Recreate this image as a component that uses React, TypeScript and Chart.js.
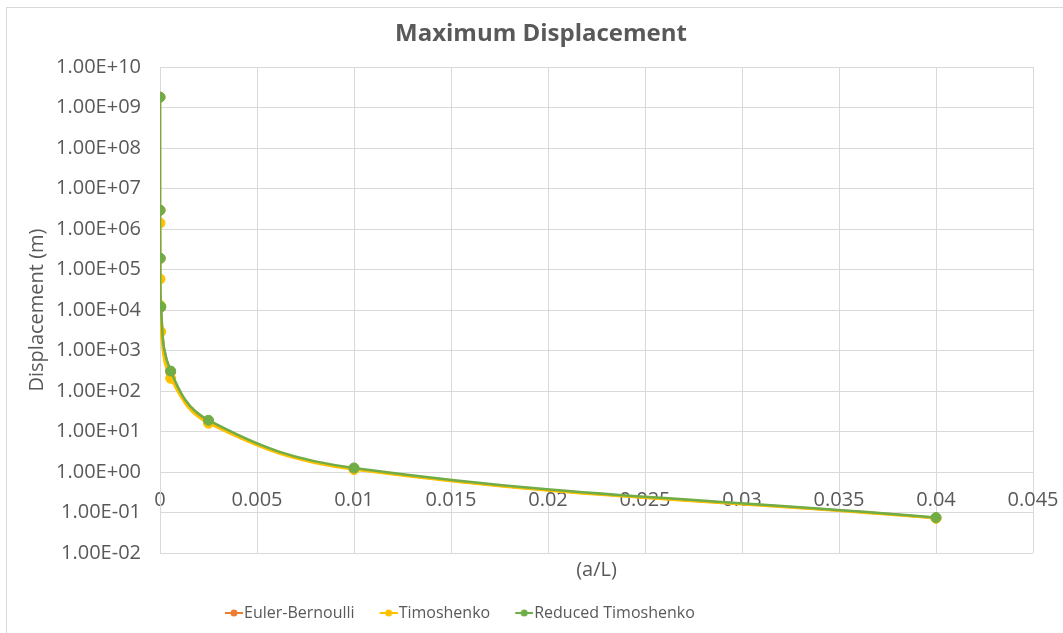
import React, { useEffect, useRef } from 'react';
import { Chart, registerables } from 'chart.js';

Chart.register(...registerables);

// ---- data ----
const xValues = [0.04, 0.01, 0.0025, 0.00055, 0.00004, 0.00001, 0.000002, 0.0000002];
const eulerBernoulli = [0.073, 1.2, 18, 300, 11800, 187000, 2.9e6, 1.8e9];
const timoshenko = [0.072, 1.15, 16, 205, 2900, 13000, 58000, 1.4e6];
const reducedTimoshenko = [0.075, 1.26, 19, 310, 12000, 190000, 2.9e6, 1.8e9];

const seriesNames = ['Euler-Bernoulli', 'Timoshenko', 'Reduced Timoshenko'];
const seriesColors = ['#ED7D31', '#FFC000', '#70AD47'];

const xTickValues = [0, 0.005, 0.01, 0.015, 0.02, 0.025, 0.03, 0.035, 0.04, 0.045];
const xTickLabels = ['0', '0.005', '0.01', '0.015', '0.02', '0.025', '0.03', '0.035', '0.04', '0.045'];
const yTickValues = [1e-2, 1e-1, 1e0, 1e1, 1e2, 1e3, 1e4, 1e5, 1e6, 1e7, 1e8, 1e9, 1e10];
const yTickLabels = [
  '1.00E-02', '1.00E-01', '1.00E+00', '1.00E+01', '1.00E+02', '1.00E+03', '1.00E+04',
  '1.00E+05', '1.00E+06', '1.00E+07', '1.00E+08', '1.00E+09', '1.00E+10',
];

const titleText = 'Maximum Displacement';
const xTitle = '(a/L)';
const yTitle = 'Displacement (m)';

const FONT = "'Open Sans', 'Noto Sans', sans-serif";
const TEXT = '#595959';
const GRID = '#d9d9d9';

function makeLegendIcon(color: string): HTMLCanvasElement {
  const c = document.createElement('canvas');
  c.width = 25;
  c.height = 12;
  const ctx = c.getContext('2d')!;
  ctx.strokeStyle = color;
  ctx.lineWidth = 2;
  ctx.beginPath();
  ctx.moveTo(7, 6);
  ctx.lineTo(25, 6);
  ctx.stroke();
  ctx.fillStyle = color;
  ctx.beginPath();
  ctx.arc(16, 6, 3.5, 0, Math.PI * 2);
  ctx.fill();
  return c;
}

const boxShift = {
  id: 'boxShift',
  afterLayout(chart: any) {
    const l = chart.legend;
    if (l) {
      const w = l.right - l.left;
      l.left = 200;
      l.right = 200 + w;
    }
    const t = chart.titleBlock;
    if (t) {
      t.left = 49;
      t.right = 1033;
    }
  },
};

export default function App() {
  const ref = useRef<HTMLCanvasElement | null>(null);

  useEffect(() => {
    if (!ref.current) return;
    const series = [eulerBernoulli, timoshenko, reducedTimoshenko];
    const icons = seriesColors.map(makeLegendIcon);
    const datasets = series.map((vals, i) => ({
      label: seriesNames[i],
      data: vals.map((v, j) => ({ x: xValues[j], y: v })),
      borderColor: seriesColors[i],
      backgroundColor: seriesColors[i],
      borderWidth: 2.5,
      pointRadius: 5,
      pointHoverRadius: 5,
      pointBorderWidth: 1,
      pointBorderColor: seriesColors[i],
      pointBackgroundColor: seriesColors[i],
      tension: 0.4,
      fill: false,
      order: 2 - i,
    }));

    const chart = new Chart(ref.current, {
      type: 'line',
      data: { datasets },
      plugins: [boxShift],
      options: {
        animation: false,
        responsive: false,
        maintainAspectRatio: false,
        layout: { padding: { left: 0, right: 30, top: 0, bottom: 2 } },
        plugins: {
          title: {
            display: true,
            text: titleText,
            color: TEXT,
            font: { family: FONT, size: 24, weight: 'bold', lineHeight: 1.2 },
            padding: { top: 20, bottom: 18.2 },
          },
          subtitle: {
            display: true,
            text: xTitle,
            position: 'bottom',
            fullSize: false,
            weight: 1000,
            color: TEXT,
            font: { family: FONT, size: 20, lineHeight: 1.0 },
            padding: { top: 7, bottom: 0 },
          },
          legend: {
            display: true,
            position: 'bottom',
            align: 'start',
            weight: 2000,
            labels: {
              usePointStyle: true,
              pointStyleWidth: 11,
              padding: 25,
              color: TEXT,
              font: { family: FONT, size: 16 },
              generateLabels: () =>
                seriesNames.map((name, i) => ({
                  text: name,
                  fillStyle: seriesColors[i],
                  strokeStyle: seriesColors[i],
                  fontColor: TEXT,
                  lineWidth: 0,
                  pointStyle: icons[i],
                  hidden: false,
                  datasetIndex: i,
                })),
            },
          },
          tooltip: { enabled: false },
        },
        scales: {
          x: {
            type: 'linear',
            position: { y: 1 } as any,
            min: 0,
            max: 0.045,
            afterBuildTicks: (scale: any) => {
              scale.ticks = xTickValues.map((v) => ({ value: v }));
            },
            afterFit: (scale: any) => {
              scale.paddingLeft = 0;
              scale.paddingRight = 25;
            },
            ticks: {
              autoSkip: false,
              maxRotation: 0,
              padding: 16,
              color: TEXT,
              font: { family: FONT, size: 20 },
              callback: (_v: any, i: number) => xTickLabels[i],
            },
            grid: { color: GRID, lineWidth: 1, drawTicks: false },
            border: { display: true, color: GRID, width: 1 },
          },
          y: {
            type: 'logarithmic',
            position: 'left',
            min: 1e-2,
            max: 1e10,
            afterFit: (scale: any) => {
              scale.width = 160;
            },
            afterBuildTicks: (scale: any) => {
              scale.ticks = yTickValues.map((v) => ({ value: v }));
            },
            ticks: {
              autoSkip: false,
              padding: 19,
              color: TEXT,
              font: { family: FONT, size: 20 },
              callback: (_v: any, i: number) => yTickLabels[i],
            },
            title: {
              display: true,
              text: yTitle,
              color: TEXT,
              font: { family: FONT, size: 20, lineHeight: 1.2 },
              padding: { top: 25, bottom: 0 },
            },
            grid: { color: GRID, lineWidth: 1, drawTicks: false },
            border: { display: true, color: GRID, width: 1 },
          },
        },
      } as any,
    });
    return () => chart.destroy();
  }, []);

  return (
    <div style={{ position: 'fixed', left: 0, top: 0, width: 1063, height: 633, background: '#fff' }}>
      <div
        style={{
          position: 'absolute',
          left: 6,
          top: 7,
          width: 1100,
          height: 700,
          borderLeft: '1px solid #d9d9d9',
          borderTop: '1px solid #d9d9d9',
        }}
      />
      <canvas ref={ref} width={1063} height={633} style={{ position: 'absolute', left: 0, top: 0 }} />
    </div>
  );
}
